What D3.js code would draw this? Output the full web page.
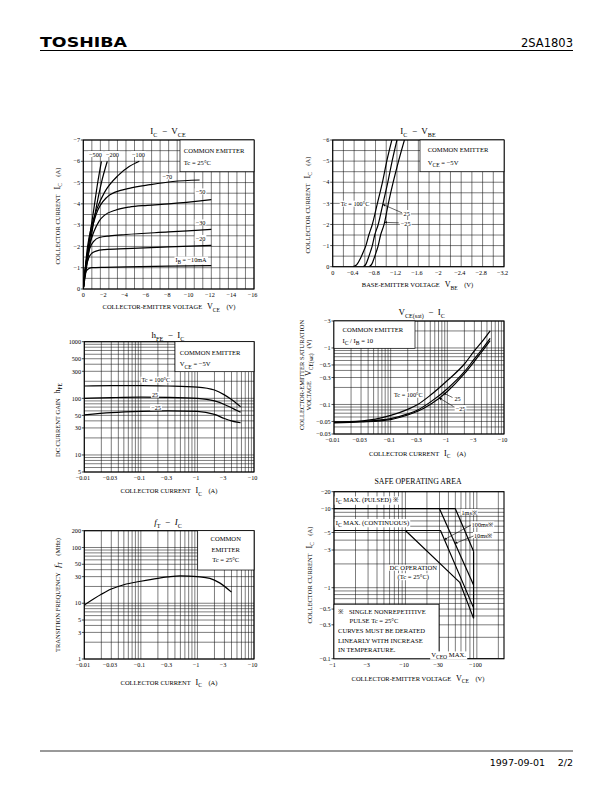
<!DOCTYPE html>
<html><head><meta charset="utf-8">
<script src="https://cdn.jsdelivr.net/npm/d3@7"></script>
<style>body{margin:0;background:#fff}svg{display:block}text{white-space:pre}</style>
</head><body>
<svg id="c" width="612" height="792"></svg>
<script>
// ===================== DATA =====================
// Chart 1: IC - VCE (VCE [V], IC [A]) per base current IB (mA)
const ivIB10  = [[0,0],[-0.08,-0.4],[-0.2,-0.75],[-0.4,-0.92],[-0.8,-1.0],[-2,-1.02],[-4,-1.04],[-8,-1.07],[-12,-1.1]];
const ivIB20  = [[0,0],[-0.1,-0.5],[-0.25,-1.0],[-0.5,-1.45],[-0.8,-1.68],[-1.2,-1.78],[-2,-1.85],[-4,-1.9],[-8,-1.98],[-12,-2.05]];
const ivIB30  = [[0,0],[-0.15,-0.8],[-0.35,-1.4],[-0.6,-1.9],[-1,-2.25],[-1.5,-2.42],[-2.5,-2.5],[-4,-2.56],[-8,-2.68],[-12,-2.8]];
const ivIB50  = [[0,0],[-0.2,-1.0],[-0.5,-1.9],[-1,-2.7],[-1.5,-3.2],[-2,-3.47],[-3,-3.7],[-4.3,-3.85],[-6,-3.93],[-8,-4.0],[-12,-4.2]];
const ivIB70  = [[0,0],[-0.3,-1.4],[-0.7,-2.6],[-1.2,-3.5],[-2.25,-4.33],[-3,-4.55],[-4.3,-4.73],[-6.25,-4.9],[-8.4,-5.05],[-10.9,-5.12]];
const ivIB100 = [[0,0],[-0.4,-2.0],[-0.8,-3.0],[-1.3,-3.8],[-2,-4.55],[-3.3,-5.35],[-4.3,-5.75],[-5.25,-6.0]];
const ivIB200 = [[0,0],[-0.6,-2.0],[-1.2,-3.8],[-1.7,-5.0],[-2.25,-6.0]];
const ivIB500 = [[0,0],[-0.5,-2.1],[-1.0,-3.8],[-1.35,-5.0],[-1.7,-6.0]];
const ivCurves = [ivIB10, ivIB20, ivIB30, ivIB50, ivIB70, ivIB100, ivIB200, ivIB500];
const ivLabels = ["−500", "−200", "−100", "−70", "−50", "−30", "−20"];
const ivXTicks = [0,-2,-4,-6,-8,-10,-12,-14,-16];
const ivYTicks = [0,-1,-2,-3,-4,-5,-6,-7];

// Chart 2: IC - VBE (VBE [V], IC [A]) per case temperature
const vbT100 = [[-0.38,0],[-0.45,-0.1],[-0.52,-0.4],[-0.58,-0.75],[-0.62,-1.0],[-0.675,-1.5],[-0.74,-2.0],[-0.835,-3.0],[-0.93,-4.0],[-1.01,-5.0],[-1.105,-6.0]];
const vbT25  = [[-0.57,0],[-0.62,-0.12],[-0.67,-0.45],[-0.71,-0.75],[-0.74,-1.0],[-0.785,-1.5],[-0.85,-2.0],[-0.94,-3.0],[-1.03,-4.0],[-1.11,-5.0],[-1.2,-6.0]];
const vbTm25 = [[-0.68,0],[-0.73,-0.12],[-0.78,-0.45],[-0.82,-0.75],[-0.85,-1.0],[-0.895,-1.5],[-0.96,-2.0],[-1.04,-3.0],[-1.13,-4.0],[-1.23,-5.0],[-1.34,-6.0]];
const vbXTicks = [0,-0.4,-0.8,-1.2,-1.6,-2.0,-2.4,-2.8,-3.2];
const vbYTicks = [0,-1,-2,-3,-4,-5,-6];
const vbArrowTips = [[-0.935,-2.95],[-0.97,-2.1]];

// Chart 3: hFE - IC
const hfT100 = [[-0.01,165],[-0.03,168],[-0.1,168],[-0.3,165],[-1,158],[-2,140],[-3,115],[-4,95],[-5,80],[-5.8,71]];
const hfT25  = [[-0.01,100],[-0.03,103],[-0.1,105],[-0.3,104],[-1,100],[-2,90],[-3,78],[-4,68],[-5,61],[-5.8,57]];
const hfTm25 = [[-0.01,51],[-0.03,56],[-0.1,59],[-0.3,60],[-1,59],[-2,52],[-3,44],[-4,40],[-5,38],[-5.8,37]];
const hfXTicks = [-0.01,-0.03,-0.1,-0.3,-1,-3,-10];
const hfYTicks = [5,10,30,50,100,300,500,1000];

// Chart 4: VCE(sat) - IC
const vsT100 = [[-0.01,-0.049],[-0.03,-0.051],[-0.1,-0.064],[-0.2,-0.082],[-0.3,-0.1],[-0.5,-0.145],[-1,-0.265],[-2,-0.52],[-3,-0.89],[-4,-1.25],[-5.7,-2.0]];
const vsT25  = [[-0.01,-0.048],[-0.03,-0.05],[-0.1,-0.056],[-0.2,-0.068],[-0.3,-0.08],[-0.5,-0.11],[-1,-0.19],[-2,-0.38],[-3,-0.64],[-4,-0.92],[-5.7,-1.48]];
const vsTm25 = [[-0.01,-0.047],[-0.03,-0.049],[-0.1,-0.054],[-0.2,-0.065],[-0.3,-0.076],[-0.5,-0.1],[-1,-0.17],[-2,-0.35],[-3,-0.58],[-4,-0.84],[-5.7,-1.35]];
const vsYTicks = [-0.03,-0.05,-0.1,-0.3,-0.5,-1,-3];
const vsArrowTips = [[-0.85,-0.16],[-0.72,-0.13]];

// Chart 5: fT - IC (MHz)
const ftCurve = [[-0.01,9.3],[-0.02,14.5],[-0.03,18],[-0.05,21.5],[-0.1,24.8],[-0.2,28],[-0.3,29.6],[-0.5,31],[-1,30],[-1.66,28],[-2.47,23.2],[-4,15.8]];
const ftYTicks = [1,3,5,10,30,50,100,200];

// Chart 6: Safe operating area (VCE [V], IC [A])
const soa1ms   = [[-1,-10],[-50,-10],[-90,-2.9]];
const soa10ms  = [[-30,-10],[-90,-1.08]];
const soa100ms = [[-1,-5.3],[-31,-5.3],[-90,-0.52]];
const soaDC    = [[-10,-5.3],[-57.6,-1.17],[-90,-0.37]];
const soaVCEO  = [[-90,-2.9],[-90,-0.37]];
const soaXTicks = [-1,-3,-10,-30,-100];
const soaYTicks = [-0.1,-0.3,-0.5,-1,-3,-5,-10,-20];
const soaArrowTips = [[-35,-4.06],[-49.4,-3.63]];

// ===================== LAYOUT =====================
const SERIF = "'Liberation Serif','Times New Roman',serif";
const SANS = "'DejaVu Sans',sans-serif";
const P = {
  p1:{L:83.3,R:254,T:140,B:289},
  p2:{L:332.7,R:504,T:140,B:266.7},
  p3:{L:84.3,R:254,T:341.7,B:472},
  p4:{L:334,R:504,T:321,B:434},
  p5:{L:84.3,R:254,T:530.7,B:659},
  p6:{L:334,R:504,T:491.7,B:658.7}
};
const TICK = 6.2, AX = 6.5, LEG = 6.6, LAB = 6.2;
const svg = d3.select("#c");
svg.append("rect").attr("width",612).attr("height",792).attr("fill","#fff");

const fmt = v => v === 0 ? "0" : (v < 0 ? "−" : "") + String(+Math.abs(v).toPrecision(4));

function rich(t, parts, size) {
  let cur = 0;
  for (const [txt, k] of parts) {
    const ts = t.append("tspan").text(txt);
    let fs = size, shift = 0;
    if (k === "v") fs = size * 1.25;
    else if (k === "i") { fs = size * 1.25; ts.attr("font-style","italic"); }
    else if (k === "s") { fs = size * 0.85; shift = size * 0.35; }
    ts.attr("font-size", fs);
    if (shift !== cur) { ts.attr("dy", shift - cur); cur = shift; }
  }
  return t;
}
function txt(g, x, y, parts, size, opt = {}) {
  const t = g.append("text").attr("x", x).attr("y", y)
    .attr("font-family", opt.font || SERIF).attr("font-size", size)
    .attr("text-anchor", opt.anchor || "start").attr("fill", "#000");
  if (typeof parts === "string") t.text(parts); else rich(t, parts, size);
  if (opt.bg) {
    const b = t.node().getBBox();
    g.insert("rect", () => t.node()).attr("x", b.x - 1).attr("y", b.y + 0.5)
      .attr("width", b.width + 2).attr("height", b.height - 1).attr("fill", "#fff");
  }
  return t;
}
function logGrid(lo, hi) {
  const out = [];
  for (let e = Math.floor(Math.log10(lo)) - 1; e <= Math.ceil(Math.log10(hi)); e++)
    for (let k = 1; k < 10; k++) {
      const v = +(k * Math.pow(10, e)).toPrecision(6);
      if (v >= lo * 0.999 && v <= hi * 1.001) out.push(v);
    }
  return out;
}
let clipN = 0;
function panel(p, xs, ys, xGrid, yGrid, xTicks, yTicks) {
  const g = svg.append("g");
  const gr = g.append("g").attr("stroke", "#111").attr("stroke-width", 0.55);
  gr.selectAll(".gx").data(xGrid).join("line")
    .attr("x1", d => xs(d)).attr("x2", d => xs(d)).attr("y1", p.T).attr("y2", p.B);
  gr.selectAll(".gy").data(yGrid).join("line")
    .attr("y1", d => ys(d)).attr("y2", d => ys(d)).attr("x1", p.L).attr("x2", p.R);
  g.append("rect").attr("x", p.L).attr("y", p.T).attr("width", p.R - p.L).attr("height", p.B - p.T)
    .attr("fill", "none").attr("stroke", "#000").attr("stroke-width", 1.1);
  g.selectAll(".ty").data(yTicks).join("line").attr("x1", p.L - 2.5).attr("x2", p.L)
    .attr("y1", d => ys(d)).attr("y2", d => ys(d)).attr("stroke", "#000").attr("stroke-width", 0.7);
  g.selectAll(".ly").data(yTicks).join("text").attr("x", p.L - 3.3).attr("y", d => ys(d) + 2.2)
    .attr("text-anchor", "end").attr("font-family", SERIF).attr("font-size", TICK).text(fmt);
  g.selectAll(".lx").data(xTicks).join("text").attr("x", d => xs(d) + (d < 0 ? -1.4 : 0)).attr("y", p.B + 7.8)
    .attr("text-anchor", "middle").attr("font-family", SERIF).attr("font-size", TICK).text(fmt);
  const id = "clip" + (clipN++);
  svg.append("clipPath").attr("id", id).append("rect").attr("x", p.L).attr("y", p.T)
    .attr("width", p.R - p.L).attr("height", p.B - p.T);
  const curves = g.append("g").attr("clip-path", `url(#${id})`);
  const ann = g.append("g");
  return { g, curves, ann, xs, ys, p };
}
function drawCurves(pn, list, curve, w = 1.2) {
  const line = d3.line().x(d => pn.xs(d[0])).y(d => pn.ys(d[1])).curve(curve || d3.curveMonotoneX);
  pn.curves.selectAll(null).data(list).join("path").attr("d", line)
    .attr("fill", "none").attr("stroke", "#000").attr("stroke-width", w).attr("stroke-linejoin", "round");
}
function legendBox(pn, x, y, w, h) {
  pn.ann.append("rect").attr("x", x).attr("y", y).attr("width", w).attr("height", h)
    .attr("fill", "#fff").attr("stroke", "#000").attr("stroke-width", 0.7);
}
function title(x, y, parts, size = 7.2) { txt(svg, x, y, parts, size, { anchor: "middle" }); }
function yTitle(x, y, parts, size = AX) {
  const g = svg.append("g").attr("transform", `translate(${x},${y}) rotate(-90)`);
  txt(g, 0, 0, parts, size, { anchor: "middle" });
}
svg.append("defs").append("marker").attr("id", "ah").attr("viewBox", "0 0 10 10").attr("refX", 9).attr("refY", 5)
  .attr("markerWidth", 5).attr("markerHeight", 5).attr("orient", "auto")
  .append("path").attr("d", "M0,1L10,5L0,9Z").attr("fill", "#000");
function arrow(pn, x1, y1, tip) {
  pn.ann.append("line").attr("x1", x1).attr("y1", y1).attr("x2", pn.xs(tip[0])).attr("y2", pn.ys(tip[1]))
    .attr("stroke", "#000").attr("stroke-width", 0.6).attr("marker-end", "url(#ah)");
}
const neg = a => a.map(v => -v);

// ===================== HEADER / FOOTER =====================
svg.append("text").attr("x", 40).attr("y", 47).attr("font-family", SANS).attr("font-weight", "bold")
  .attr("font-size", 14.5).attr("textLength", 87).attr("lengthAdjust", "spacingAndGlyphs").text("TOSHIBA");
svg.append("text").attr("x", 573).attr("y", 47).attr("text-anchor", "end").attr("font-family", SANS)
  .attr("font-size", 11.5).text("2SA1803");
svg.append("line").attr("x1", 40).attr("x2", 573).attr("y1", 50.5).attr("y2", 50.5).attr("stroke", "#000").attr("stroke-width", 1.2);
svg.append("line").attr("x1", 40).attr("x2", 573).attr("y1", 751).attr("y2", 751).attr("stroke", "#000").attr("stroke-width", 0.8);
svg.append("text").attr("x", 545).attr("y", 766).attr("text-anchor", "end").attr("font-family", SANS).attr("font-size", 9.5).text("1997-09-01");
svg.append("text").attr("x", 573).attr("y", 766).attr("text-anchor", "end").attr("font-family", SANS).attr("font-size", 9.5).text("2/2");

// ===================== CHART 1 =====================
{
  const p = P.p1;
  const pn = panel(p, d3.scaleLinear().domain([0, -16]).range([p.L, p.R]),
    d3.scaleLinear().domain([0, -7]).range([p.B, p.T]),
    d3.range(0, 21).map(i => -0.8 * i), d3.range(0, 15).map(i => -0.5 * i), ivXTicks, ivYTicks);
  legendBox(pn, p.L + 96.7, p.T, p.R - p.L - 96.7, 31.7);
  txt(pn.ann, p.L + 100.5, p.T + 12.5, "COMMON EMITTER", LEG);
  txt(pn.ann, p.L + 100.5, p.T + 24.5, "Tc = 25°C", LEG);
  drawCurves(pn, ivCurves);
  const lp = [[12.2, 14.3], [29.2, 14.3], [55.2, 14.3], [84, 36.7], [117.2, 51.7], [117.2, 82.7], [117.2, 98.3]];
  ivLabels.forEach((l, i) => txt(pn.ann, p.L + lp[i][0], p.T + lp[i][1] + 2.2, l, LAB, { anchor: "middle", bg: true }));
  txt(pn.ann, p.L + 107.7, p.T + 122, [["I", "n"], ["B", "s"], [" = −10mA", "n"]], LAB, { anchor: "middle", bg: true });
  title(168, 134, [["I", "v"], ["C", "s"], ["  −  ", "v"], ["V", "v"], ["CE", "s"]]);
  txt(svg, 169, 309.3, [["COLLECTOR-EMITTER VOLTAGE   ", "n"], ["V", "v"], ["CE", "s"], ["    (V)", "n"]], AX, { anchor: "middle" });
  yTitle(60, 216, [["COLLECTOR CURRENT   ", "n"], ["I", "v"], ["C", "s"], ["    (A)", "n"]]);
}

// ===================== CHART 2 =====================
{
  const p = P.p2;
  const pn = panel(p, d3.scaleLinear().domain([0, -3.2]).range([p.L, p.R]),
    d3.scaleLinear().domain([0, -6]).range([p.B, p.T]),
    d3.range(0, 17).map(i => -0.2 * i), d3.range(0, 13).map(i => -0.5 * i), vbXTicks, vbYTicks);
  legendBox(pn, p.L + 87.3, p.T, p.R - p.L - 87.3, 31.7);
  txt(pn.ann, p.L + 95, p.T + 12, "COMMON EMITTER", LEG);
  txt(pn.ann, p.L + 95, p.T + 24.5, [["V", "n"], ["CE", "s"], [" = −5V", "n"]], LEG);
  drawCurves(pn, [vbT100, vbT25, vbTm25]);
  txt(pn.ann, p.L + 22.3, p.T + 66.2, "Tc = 100°C", LAB, { anchor: "middle", bg: true });
  txt(pn.ann, p.L + 74, p.T + 75.5, "25", LAB, { anchor: "middle", bg: true });
  txt(pn.ann, p.L + 73, p.T + 85.5, "−25", LAB, { anchor: "middle", bg: true });
  arrow(pn, p.L + 69.3, p.T + 72.8, vbArrowTips[0]);
  arrow(pn, p.L + 66, p.T + 82.8, vbArrowTips[1]);
  title(418, 134, [["I", "v"], ["C", "s"], ["  −  ", "v"], ["V", "v"], ["BE", "s"]]);
  txt(svg, 417.5, 287.3, [["BASE-EMITTER VOLTAGE   ", "n"], ["V", "v"], ["BE", "s"], ["    (V)", "n"]], AX, { anchor: "middle" });
  yTitle(310, 205, [["COLLECTOR CURRENT   ", "n"], ["I", "v"], ["C", "s"], ["    (A)", "n"]]);
}

// ===================== CHART 3 =====================
{
  const p = P.p3;
  const pn = panel(p, d3.scaleLog().domain([-0.01, -10]).range([p.L, p.R]),
    d3.scaleLog().domain([5, 1000]).range([p.B, p.T]),
    neg(logGrid(0.01, 10)), logGrid(5, 1000), hfXTicks, hfYTicks);
  legendBox(pn, p.L + 90.7, p.T, p.R - p.L - 90.7, 30);
  txt(pn.ann, p.L + 95.5, p.T + 12.8, "COMMON EMITTER", LEG);
  txt(pn.ann, p.L + 95.5, p.T + 24.7, [["V", "n"], ["CE", "s"], [" = −5V", "n"]], LEG);
  drawCurves(pn, [hfT100, hfT25, hfTm25]);
  txt(pn.ann, p.L + 71.5, p.T + 40.5, "Tc = 100°C", LAB, { anchor: "middle", bg: true });
  txt(pn.ann, p.L + 70.7, p.T + 55.5, "25", LAB, { anchor: "middle", bg: true });
  txt(pn.ann, p.L + 71.7, p.T + 68.2, "−25", LAB, { anchor: "middle", bg: true });
  title(168, 338.3, [["h", "v"], ["FE", "s"], ["  −  ", "v"], ["I", "v"], ["C", "s"]]);
  txt(svg, 169, 493.3, [["COLLECTOR CURRENT   ", "n"], ["I", "v"], ["C", "s"], ["    (A)", "n"]], AX, { anchor: "middle" });
  yTitle(60, 420, [["DC CURRENT GAIN   ", "n"], ["h", "v"], ["FE", "s"]]);
}

// ===================== CHART 4 =====================
{
  const p = P.p4;
  const pn = panel(p, d3.scaleLog().domain([-0.01, -10]).range([p.L, p.R]),
    d3.scaleLog().domain([-0.03, -3]).range([p.B, p.T]),
    neg(logGrid(0.01, 10)), neg(logGrid(0.03, 3)), hfXTicks, vsYTicks);
  legendBox(pn, p.L, p.T, 81, 27.3);
  txt(pn.ann, p.L + 8.5, p.T + 10.9, "COMMON EMITTER", LEG);
  txt(pn.ann, p.L + 8.5, p.T + 22, [["I", "n"], ["C", "s"], [" / ", "n"], ["I", "n"], ["B", "s"], [" = 10", "n"]], LEG);
  drawCurves(pn, [vsT100, vsT25, vsTm25]);
  txt(pn.ann, p.L + 74.3, p.T + 76.2, "Tc = 100°C", LAB, { anchor: "middle", bg: true });
  txt(pn.ann, p.L + 123.5, p.T + 79.5, "25", LAB, { anchor: "middle", bg: true });
  txt(pn.ann, p.L + 126.5, p.T + 89.5, "−25", LAB, { anchor: "middle", bg: true });
  arrow(pn, p.L + 118.5, p.T + 76.5, vsArrowTips[0]);
  arrow(pn, p.L + 119.5, p.T + 85.5, vsArrowTips[1]);
  title(421.7, 315, [["V", "v"], ["CE(sat)", "s"], ["  −  ", "v"], ["I", "v"], ["C", "s"]]);
  txt(svg, 417.5, 455.7, [["COLLECTOR CURRENT   ", "n"], ["I", "v"], ["C", "s"], ["    (A)", "n"]], AX, { anchor: "middle" });
  yTitle(303.5, 375, [["COLLECTOR-EMITTER SATURATION", "n"]]);
  yTitle(310.5, 375, [["VOLTAGE   ", "n"], ["V", "v"], ["CE(sat)", "s"], ["   (V)", "n"]]);
}

// ===================== CHART 5 =====================
{
  const p = P.p5;
  const pn = panel(p, d3.scaleLog().domain([-0.01, -10]).range([p.L, p.R]),
    d3.scaleLog().domain([1, 200]).range([p.B, p.T]),
    neg(logGrid(0.01, 10)), logGrid(1, 200), hfXTicks, ftYTicks);
  legendBox(pn, p.L + 113.4, p.T, p.R - p.L - 113.4, 39.3);
  txt(pn.ann, p.L + 141.4, p.T + 10.7, "COMMON", LEG, { anchor: "middle" });
  txt(pn.ann, p.L + 141.4, p.T + 21.5, "EMITTER", LEG, { anchor: "middle" });
  txt(pn.ann, p.L + 141.4, p.T + 31.7, "Tc = 25°C", LEG, { anchor: "middle" });
  drawCurves(pn, [ftCurve]);
  title(168, 525, [["f", "i"], ["T", "s"], ["  −  ", "v"], ["I", "i"], ["C", "s"]]);
  txt(svg, 169, 685, [["COLLECTOR CURRENT   ", "n"], ["I", "v"], ["C", "s"], ["    (A)", "n"]], AX, { anchor: "middle" });
  yTitle(60, 595, [["TRANSITION FREQUENCY   ", "n"], ["f", "i"], ["T", "s"], ["    (MHz)", "n"]]);
}

// ===================== CHART 6 =====================
{
  const p = P.p6;
  const pn = panel(p, d3.scaleLog().domain([-1, -240]).range([p.L, p.R]),
    d3.scaleLog().domain([-0.1, -1, -10, -20]).range([p.B, 587.7, 508.7, p.T]),
    neg(logGrid(1, 240)), neg(logGrid(0.1, 20)), soaXTicks, soaYTicks);
  legendBox(pn, p.L, p.T + 112.6, 105, p.B - p.T - 112.6);
  drawCurves(pn, [soa1ms, soa10ms, soa100ms, soaDC, soaVCEO], d3.curveLinear, 1.2);
  const a = pn.ann;
  txt(a, p.L + 1.7, p.T + 10.2, [["I", "n"], ["C", "s"], [" MAX. (PULSED) ※", "n"]], LEG, { bg: true });
  txt(a, p.L + 1.7, p.T + 32.8, [["I", "n"], ["C", "s"], [" MAX. (CONTINUOUS)", "n"]], LEG, { bg: true });
  txt(a, p.L + 127.5, p.T + 22.8, "1ms※", LAB, { bg: true });
  txt(a, p.L + 137.7, p.T + 35.2, "100ms※", LAB, { bg: true });
  txt(a, p.L + 140, p.T + 45.8, "10ms※", LAB, { bg: true });
  arrow(pn, p.L + 137, p.T + 33.3, soaArrowTips[0]);
  arrow(pn, p.L + 139.5, p.T + 44.3, soaArrowTips[1]);
  txt(a, p.L + 79.3, p.T + 78.5, "DC OPERATION", LEG, { anchor: "middle", bg: true });
  txt(a, p.L + 79.3, p.T + 87, "(Tc = 25°C)", LEG, { anchor: "middle", bg: true });
  txt(a, p.L + 4, p.T + 121.8, "※   SINGLE NONREPETITIVE", LEG);
  txt(a, p.L + 15.5, p.T + 130.8, "PULSE Tc = 25°C", LEG);
  txt(a, p.L + 4, p.T + 141.5, "CURVES MUST BE DERATED", LEG);
  txt(a, p.L + 4, p.T + 150.8, "LINEARLY WITH INCREASE", LEG);
  txt(a, p.L + 4, p.T + 160.5, "IN TEMPERATURE.", LEG);
  txt(a, p.L + 97.2, p.T + 165.2, [["V", "n"], ["CEO", "s"], [" MAX.", "n"]], LEG, { bg: true });
  title(418, 484.3, "SAFE OPERATING AREA", 7.8);
  txt(svg, 418, 681, [["COLLECTOR-EMITTER VOLTAGE   ", "n"], ["V", "v"], ["CE", "s"], ["    (V)", "n"]], AX, { anchor: "middle" });
  yTitle(311.5, 575, [["COLLECTOR CURRENT   ", "n"], ["I", "v"], ["C", "s"], ["    (A)", "n"]]);
}
</script>
</body></html>
